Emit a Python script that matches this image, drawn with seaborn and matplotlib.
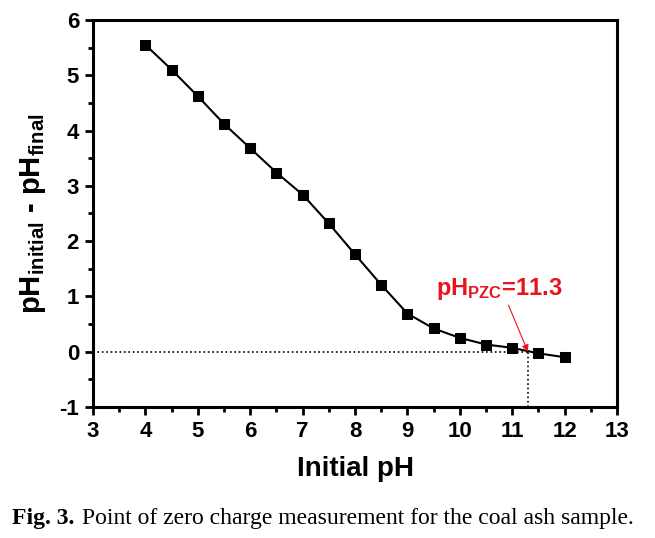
import numpy as np
import pandas as pd
import matplotlib
matplotlib.use('Agg')
import matplotlib.pyplot as plt
from matplotlib.ticker import MultipleLocator
import seaborn as sns

# Data
initial_ph = [4.0, 4.5, 5.0, 5.5, 6.0, 6.5, 7.0, 7.5, 8.0, 8.5, 9.0, 9.5, 10.0, 10.5, 11.0, 11.5, 12.0]
delta_ph = [5.55, 5.10, 4.62, 4.12, 3.68, 3.24, 2.84, 2.32, 1.76, 1.21, 0.69, 0.42, 0.25, 0.13, 0.07, -0.03, -0.10]
ph_pzc = 11.3

df = pd.DataFrame({'Initial pH': initial_ph, 'dpH': delta_ph})

sns.set_style('ticks', {'axes.edgecolor': 'black', 'xtick.color': 'black',
                        'ytick.color': 'black', 'text.color': 'black',
                        'axes.labelcolor': 'black'})
plt.rcParams['font.family'] = ['Liberation Sans', 'DejaVu Sans']
plt.rcParams['axes.unicode_minus'] = False
plt.rcParams['mathtext.fontset'] = 'custom'
plt.rcParams['mathtext.rm'] = 'Liberation Sans:bold'
plt.rcParams['mathtext.bf'] = 'Liberation Sans:bold'
plt.rcParams['mathtext.it'] = 'Liberation Sans:bold'

fig = plt.figure(figsize=(6.55, 5.38), dpi=100)
ax = fig.add_axes([0.142, 0.2435, 0.8, 0.7195])

sns.lineplot(data=df, x='Initial pH', y='dpH', ax=ax, color='black', lw=1.5,
             marker='s', markersize=7, markeredgecolor='black', markerfacecolor='black')

# zero-charge guide lines
ax.plot([3, ph_pzc], [0, 0], ls=':', color='black', lw=1.2)
ax.plot([ph_pzc, ph_pzc], [-1, 0], ls=':', color='black', lw=1.2)

ax.annotate(r'$\mathrm{pH_{PZC}}$=11.3', xy=(ph_pzc, 0.0), xytext=(9.55, 1.03),
            color='#e8141c', fontsize=17, fontweight='bold',
            arrowprops=dict(arrowstyle='-|>', color='#e8141c', lw=0.8,
                            shrinkA=0, shrinkB=0, mutation_scale=10,
                            relpos=(0.56, 0.0)))

ax.set_xlim(3, 13)
ax.set_ylim(-1, 6)
ax.xaxis.set_major_locator(MultipleLocator(1))
ax.xaxis.set_minor_locator(MultipleLocator(0.5))
ax.yaxis.set_major_locator(MultipleLocator(1))
ax.yaxis.set_minor_locator(MultipleLocator(0.5))
ax.tick_params(which='major', direction='out', length=6, width=2, labelsize=16, pad=4)
ax.tick_params(which='minor', direction='out', length=3.5, width=2)
for lab in ax.get_xticklabels() + ax.get_yticklabels():
    lab.set_fontweight('bold')
for sp in ax.spines.values():
    sp.set_linewidth(2.2)
    sp.set_visible(True)

ax.set_xlabel('Initial pH', fontsize=20, fontweight='bold', labelpad=10)
ax.set_ylabel(r'$\mathrm{pH_{initial}}$ - $\mathrm{pH_{final}}$', fontsize=21,
              fontweight='bold', labelpad=8)

fig.text(0.018, 0.037, 'Fig. 3.', fontsize=17, fontweight='bold',
         family='Liberation Serif', ha='left', va='center')
fig.text(0.125, 0.037, 'Point of zero charge measurement for the coal ash sample.',
         fontsize=17, family='Liberation Serif', ha='left', va='center')

fig.savefig('out.png', dpi=100)
